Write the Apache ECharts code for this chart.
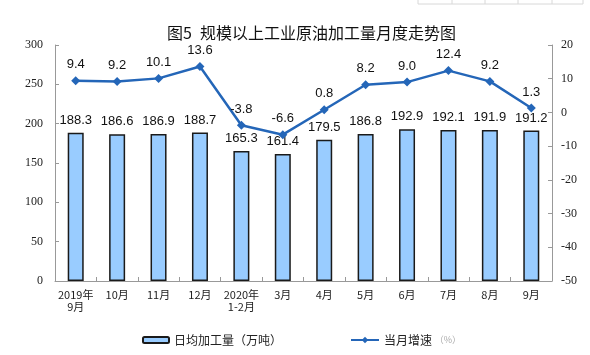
<!DOCTYPE html>
<html>
<head>
<meta charset="utf-8">
<script src="https://cdn.jsdelivr.net/npm/echarts@6/dist/echarts.min.js"></script>
<style>html,body{margin:0;padding:0;background:#fff;}#c{width:590px;height:355px;}</style>
</head>
<body>
<div id="c"></div>
<script>
var categories = ['2019年\n9月','10月','11月','12月','2020年\n1-2月','3月','4月','5月','6月','7月','8月','9月'];
var dailyOutput = [188.3,186.6,186.9,188.7,165.3,161.4,179.5,186.8,192.9,192.1,191.9,191.2];
var monthlyGrowth = [9.4,9.2,10.1,13.6,-3.8,-6.6,0.8,8.2,9.0,12.4,9.2,1.3];
var titleText = '图5\u2002规模以上工业原油加工量月度走势图';
var barName = '日均加工量（万吨）';
var lineName = '当月增速';

var chart = echarts.init(document.getElementById('c'), null, {renderer:'canvas'});
var serif = 'Liberation Serif';
var sans = 'Liberation Sans';
var cjk = 'Noto Sans CJK SC';
var faint = [418,452,485,518,552,583];
var gfx = faint.map(function(x){return {type:'line',shape:{x1:x,y1:0,x2:x,y2:4},style:{stroke:'#d8d8d8',lineWidth:1}};});
gfx.push({type:'line',shape:{x1:418,y1:4,x2:583,y2:4},style:{stroke:'#d8d8d8',lineWidth:1}});

chart.setOption({
  animation:false,
  backgroundColor:'#fff',
  graphic: gfx,
  title:{text:titleText,left:162,top:20,textStyle:{fontFamily:cjk,fontSize:16,fontWeight:'normal',color:'#111'}},
  grid:{left:55,right:38,top:45,bottom:74},
  legend:[
    {data:[barName],left:137,top:329,itemWidth:26,itemHeight:6,itemGap:4,
     textStyle:{fontFamily:cjk,fontSize:12,color:'#222'}},
    {data:[lineName],left:345,top:329,itemWidth:28,itemHeight:8,
     formatter:function(n){return '{a|'+n+'} {b|（%）}';},
     textStyle:{fontFamily:cjk,fontSize:12,color:'#222',rich:{a:{fontFamily:cjk,fontSize:12,color:'#222'},b:{fontFamily:cjk,fontSize:9,color:'#aaa'}}}}
  ],
  xAxis:{type:'category',data:categories,
    axisLine:{lineStyle:{color:'#999',width:1}},
    axisTick:{show:true,inside:true,length:4,alignWithLabel:false,lineStyle:{color:'#999'}},
    axisLabel:{fontFamily:cjk,fontSize:11,color:'#222',margin:8,lineHeight:12,interval:0}
  },
  yAxis:[
    {type:'value',min:0,max:300,interval:50,
     axisLine:{show:true,lineStyle:{color:'#999'}},
     axisTick:{show:true,inside:true,length:4,lineStyle:{color:'#999'}},
     splitLine:{show:false},
     axisLabel:{fontFamily:serif,fontSize:12,color:'#222',margin:12}},
    {type:'value',min:-50,max:20,interval:10,
     axisLine:{show:true,lineStyle:{color:'#999'}},
     axisTick:{show:true,inside:true,length:4,lineStyle:{color:'#999'}},
     splitLine:{show:false},
     axisLabel:{fontFamily:serif,fontSize:12,color:'#222',margin:9}}
  ],
  series:[
    {name:barName,type:'bar',data:dailyOutput,barWidth:16,yAxisIndex:0,
     itemStyle:{color:'#99CCFF',borderColor:'#1a1a1a',borderWidth:1.5},
     label:{show:true,position:'top',distance:6,fontFamily:sans,fontSize:13,color:'#111',
       formatter:function(p){return p.value.toFixed(1);}}},
    {name:lineName,type:'line',data:monthlyGrowth,yAxisIndex:1,
     symbol:'diamond',symbolSize:9,
     lineStyle:{color:'#2466B8',width:2.5},
     itemStyle:{color:'#2466B8'},
     label:{show:true,position:'top',distance:5,fontFamily:sans,fontSize:13,color:'#111',
       formatter:function(p){return p.value.toFixed(1);}}}
  ]
});
</script>
</body>
</html>
